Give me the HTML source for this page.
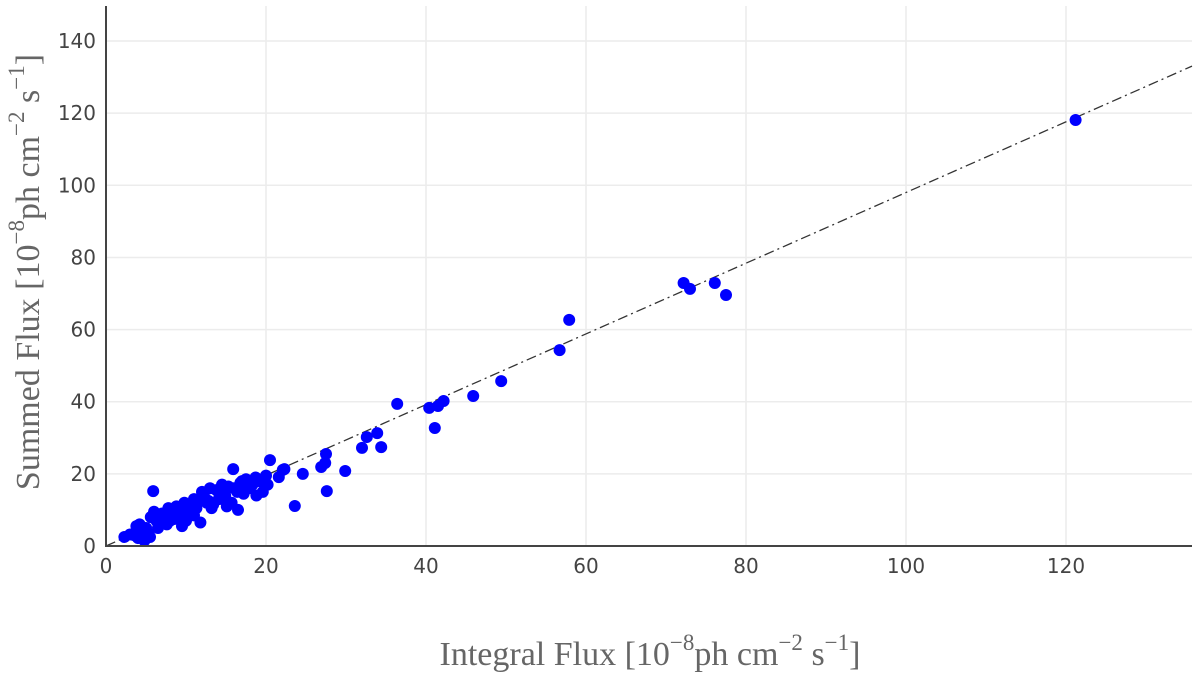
<!DOCTYPE html>
<html><head><meta charset="utf-8"><style>
html,body{margin:0;padding:0;background:#fff;}
svg{display:block;}
.tick{font-family:"DejaVu Sans","Liberation Sans",sans-serif;font-size:20px;fill:#444;}
.ttl{font-family:"Liberation Serif",serif;font-size:34px;fill:#666;}
</style></head><body>
<svg id="chart" width="1200" height="676">
<g id="grid"></g>
<g id="fitline"></g>
<g id="points"></g>
<line x1="106" y1="6" x2="106" y2="547" stroke="#444" stroke-width="2"/>
<line x1="105" y1="546" x2="1192" y2="546" stroke="#444" stroke-width="2"/>
<g id="ticks"></g>
<text class="ttl" x="650" y="665" text-anchor="middle">Integral Flux [10<tspan dy="-15" font-size="23">−8</tspan><tspan dy="15">ph cm</tspan><tspan dy="-15" font-size="23">−2</tspan><tspan dy="15"> s</tspan><tspan dy="-15" font-size="23">−1</tspan><tspan dy="15">]</tspan></text>
<text class="ttl" transform="translate(39,272) rotate(-90)" text-anchor="middle">Summed Flux [10<tspan dy="-15" font-size="23">−8</tspan><tspan dy="15">ph cm</tspan><tspan dy="-15" font-size="23">−2</tspan><tspan dy="15"> s</tspan><tspan dy="-15" font-size="23">−1</tspan><tspan dy="15">]</tspan></text>
</svg>
<script>
const xTicks=[0,20,40,60,80,100,120];
const yTicks=[0,20,40,60,80,100,120,140];
const fitSlope=0.98;
const fitIntercept=0;
const xVals=[121.2,72.2,73,76.1,77.5,57.9,56.7,49.4,45.9,36.4,40.4,41.5,42.2,41.1,33.9,32.6,32,34.4,29.9,27.6,27.5,27.4,26.9,24.6,23.6,22.1,20.5,21.6,22.3,
5.9,15.9,2.3,3,3.5,4,4.2,4.5,5,5.3,5.6,6,6.3,6.8,7,7.4,7.8,8.2,8.5,8.8,9,9.4,9.8,10,10.3,10.7,11,11.3,11.6,12,12.3,12.6,13,13.4,13.8,14.1,14.5,14.9,15.3,15.7,16,16.4,16.8,17.2,17.5,17.9,18.3,18.7,19.2,19.6,20,20.2,11.8,13.2,9.5,7.6,16.5,18.8,14.2,6.5,10.5,12.8,4.8,8,15.1,17,19,3.8,5.5,11];
const yVals=[118.1,72.9,71.3,72.9,69.6,62.7,54.3,45.7,41.6,39.4,38.3,38.8,40.2,32.7,31.3,30.2,27.2,27.4,20.8,15.2,25.5,23,21.9,20,11.1,21.1,23.8,19.1,21.3,
15.2,21.3,2.5,3.2,3,2.2,6,4.5,5,3.5,8,9.5,7,6.5,9,8,10.5,9,7.5,11,10,8.5,12,7,9.5,11.5,13,10.5,12.5,15,13.5,12,16,11.5,15.5,13,17,14,16.5,12,16,15,17.5,14.5,18.5,16,17,19,18,15,19.5,17,6.5,10.5,5.5,6,10,14,13.5,5,8.5,12.5,1.5,7,11,18,18.5,5.5,2.5,8.5];
const X=v=>106+v*8, Y=v=>546-v*3.607;
const NS='http://www.w3.org/2000/svg';
const grid=document.getElementById('grid'),ticks=document.getElementById('ticks');
xTicks.forEach(t=>{
 if(t>0){const l=document.createElementNS(NS,'line');
 
 
 l.setAttribute('x1',X(t));l.setAttribute('x2',X(t));l.setAttribute('y1',6);l.setAttribute('y2',546);l.setAttribute('stroke','#ececec');l.setAttribute('stroke-width','1.5');grid.appendChild(l);}
 const s=document.createElementNS(NS,'text');
 
 
 s.setAttribute('class','tick');s.setAttribute('x',X(t));s.setAttribute('y',573);s.setAttribute('text-anchor','middle');s.textContent=t;ticks.appendChild(s);
});
yTicks.forEach(t=>{
 if(t>0){const l=document.createElementNS(NS,'line');
 
 
 l.setAttribute('x1',106);l.setAttribute('x2',1192);l.setAttribute('y1',Y(t));l.setAttribute('y2',Y(t));l.setAttribute('stroke','#ececec');l.setAttribute('stroke-width','1.5');grid.appendChild(l);}
 const s=document.createElementNS(NS,'text');
 
 
 s.setAttribute('class','tick');s.setAttribute('x',96);s.setAttribute('y',Y(t)+7);s.setAttribute('text-anchor','end');s.textContent=t;ticks.appendChild(s);
});
const fl=document.createElementNS(NS,'line');


const xe=135.75;
fl.setAttribute('x1',X(0));fl.setAttribute('y1',Y(fitIntercept));fl.setAttribute('x2',X(xe));fl.setAttribute('y2',Y(fitIntercept+fitSlope*xe));
fl.setAttribute('stroke','#333');fl.setAttribute('stroke-width','1.3');fl.setAttribute('stroke-dasharray','10,4,2,4');
document.getElementById('fitline').appendChild(fl);
const pts=document.getElementById('points');
xVals.forEach((x,i)=>{
 const c=document.createElementNS(NS,'circle');
 
 
 c.setAttribute('cx',X(x));c.setAttribute('cy',Y(yVals[i]));c.setAttribute('r',6);c.setAttribute('fill','#0000ff');
 pts.appendChild(c);
});
</script>
</body></html>
